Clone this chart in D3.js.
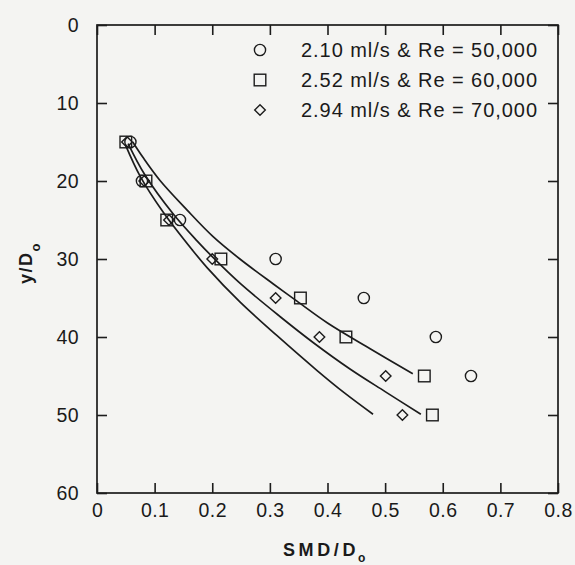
<!DOCTYPE html>
<html>
<head>
<meta charset="utf-8">
<script src="https://cdn.jsdelivr.net/npm/d3@7"></script>
<style>
  html, body { margin: 0; padding: 0; background: #f4f4f2; }
  svg { display: block; }
  text { font-family: "Liberation Sans", Arial, Helvetica, sans-serif; fill: #1a1a1a; }
</style>
</head>
<body>
<svg id="chart" width="575" height="565"></svg>
<script>
// Axis ticks
const xTicks = [0, 0.1, 0.2, 0.3, 0.4, 0.5, 0.6, 0.7, 0.8];
const yTicks = [0, 10, 20, 30, 40, 50, 60];

// Series labels
const seriesLabels = [
  "2.10 ml/s & Re = 50,000",
  "2.52 ml/s & Re = 60,000",
  "2.94 ml/s & Re = 70,000"
];

// Measured SMD/Do at each y/Do station
const circlePts = [[0.058, 15], [0.078, 20], [0.144, 25], [0.31, 30], [0.463, 35], [0.588, 40], [0.649, 45]];
const squarePts = [[0.050, 15], [0.085, 20], [0.121, 25], [0.215, 30], [0.353, 35], [0.432, 40], [0.568, 45], [0.582, 50]];
const diamondPts = [[0.052, 15], [0.082, 20], [0.125, 25], [0.200, 30], [0.310, 35], [0.386, 40], [0.501, 45], [0.530, 50]];

// Correlation curves
const curve50k = [[0.062, 15.0], [0.080, 17.0], [0.109, 19.9], [0.156, 23.7], [0.201, 27.1], [0.248, 30.0],
                  [0.306, 33.2], [0.347, 35.4], [0.400, 38.2], [0.474, 41.5], [0.548, 44.7]];
const curve60k = [[0.054, 15.2], [0.083, 19.2], [0.132, 24.2], [0.174, 27.7], [0.200, 29.7], [0.248, 33.1],
                  [0.318, 37.4], [0.375, 40.7], [0.439, 44.1], [0.500, 47.0], [0.562, 49.9]];
const curve70k = [[0.049, 15.3], [0.075, 19.4], [0.115, 24.0], [0.165, 28.8], [0.191, 31.1], [0.248, 35.5],
                  [0.312, 39.8], [0.382, 44.3], [0.430, 47.2], [0.479, 49.9]];

const svg = d3.select("#chart");
const ink = "#1c1c1c";
const plotL = 97, plotR = 558, plotT = 25, plotB = 493;

const x = d3.scaleLinear().domain([0, 0.8]).range([plotL, plotR]);
const y = d3.scaleLinear().domain([0, 60]).range([plotT, plotB]);

const fmtX = d => d === 0 ? "0" : d3.format(".1f")(d);

// Frame
svg.append("rect")
  .attr("x", plotL).attr("y", plotT)
  .attr("width", plotR - plotL).attr("height", plotB - plotT)
  .attr("fill", "none").attr("stroke", ink).attr("stroke-width", 1.7);

function styleAxis(g) {
  g.select(".domain").remove();
  g.selectAll(".tick line").attr("stroke", ink).attr("stroke-width", 1.6);
  g.selectAll(".tick text")
    .attr("fill", "#1a1a1a")
    .style("font-size", "19.5px")
    .style("letter-spacing", "0.4px")
    .style("font-family", "'Liberation Sans', Arial, sans-serif");
}

// Bottom axis with inward ticks
svg.append("g")
  .attr("transform", `translate(0,${plotB})`)
  .call(d3.axisBottom(x).tickValues(xTicks).tickFormat(fmtX).tickSizeInner(-10).tickSizeOuter(0).tickPadding(10))
  .call(styleAxis);

// Top axis (ticks only)
svg.append("g")
  .attr("transform", `translate(0,${plotT})`)
  .call(d3.axisTop(x).tickValues(xTicks).tickFormat("").tickSizeInner(-10).tickSizeOuter(0))
  .call(styleAxis);

// Left axis
svg.append("g")
  .attr("transform", `translate(${plotL},0)`)
  .call(d3.axisLeft(y).tickValues(yTicks).tickSizeInner(-10).tickSizeOuter(0).tickPadding(18))
  .call(styleAxis);

// Right axis (ticks only)
svg.append("g")
  .attr("transform", `translate(${plotR},0)`)
  .call(d3.axisRight(y).tickValues(yTicks).tickFormat("").tickSizeInner(-10).tickSizeOuter(0))
  .call(styleAxis);

// Curves
const line = d3.line()
  .x(d => x(d[0])).y(d => y(d[1]))
  .curve(d3.curveCatmullRom.alpha(0.5));

[curve50k, curve60k, curve70k].forEach(c => {
  svg.append("path")
    .datum(c)
    .attr("d", line)
    .attr("fill", "none")
    .attr("stroke", ink)
    .attr("stroke-width", 1.7);
});

// Marker symbols
const markerStyle = sel => sel.attr("fill", "none").attr("stroke", ink).attr("stroke-width", 1.4);

function drawCircle(g, cx, cy) {
  g.append("circle").attr("cx", cx).attr("cy", cy).attr("r", 5.6).call(markerStyle);
}
function drawSquare(g, cx, cy) {
  g.append("rect").attr("x", cx - 5.8).attr("y", cy - 5.8).attr("width", 11.6).attr("height", 11.6).call(markerStyle);
}
function drawDiamond(g, cx, cy) {
  const s = 5.3;
  g.append("path").attr("d", `M${cx},${cy - s}L${cx + s},${cy}L${cx},${cy + s}L${cx - s},${cy}Z`).call(markerStyle);
}

const marks = svg.append("g");
diamondPts.forEach(d => drawDiamond(marks, x(d[0]), y(d[1])));
squarePts.forEach(d => drawSquare(marks, x(d[0]), y(d[1])));
circlePts.forEach(d => drawCircle(marks, x(d[0]), y(d[1])));

// Legend
const legend = svg.append("g");
const drawers = [drawCircle, drawSquare, drawDiamond];
seriesLabels.forEach((lab, i) => {
  const cy = 50 + i * 30;
  drawers[i](legend, 260, cy);
  legend.append("text")
    .attr("x", 301).attr("y", cy + 7)
    .style("font-size", "20px")
    .style("letter-spacing", "0.95px")
    .text(lab);
});

// Axis titles
const xt = svg.append("text")
  .attr("x", 283).attr("y", 556)
  .style("font-size", "18px").style("font-weight", "bold").style("letter-spacing", "3.6px");
xt.append("tspan").text("SMD/D");
xt.append("tspan").attr("dy", 6).attr("dx", -1).style("font-size", "12px").text("o");

const yt = svg.append("text")
  .attr("transform", "translate(32,284) rotate(-90)")
  .style("font-size", "18px").style("font-weight", "bold").style("letter-spacing", "1.5px");
yt.append("tspan").text("y/D");
yt.append("tspan").attr("dy", 8).attr("dx", 0).style("font-size", "13px").text("o");
</script>
</body>
</html>
